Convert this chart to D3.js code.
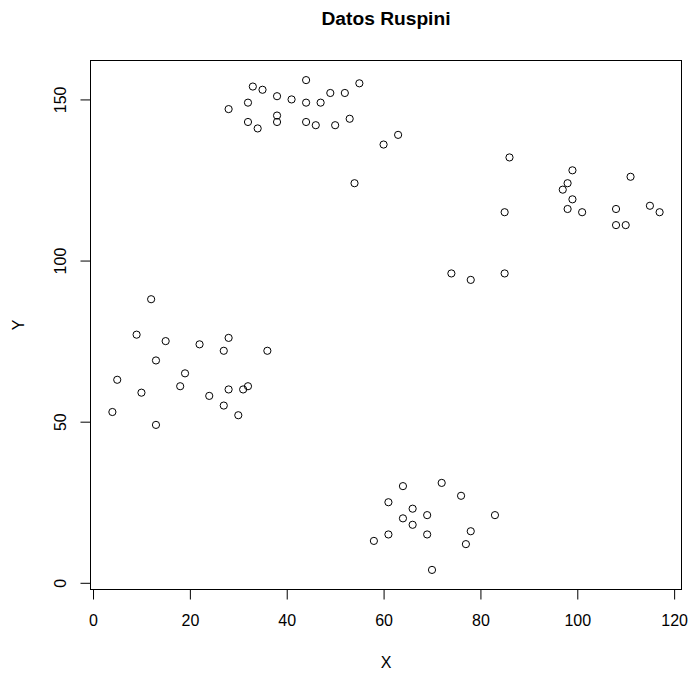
<!DOCTYPE html>
<html lang="es">
<head>
  <meta charset="UTF-8">
  <title>Datos Ruspini</title>
  <script src="https://cdn.jsdelivr.net/npm/d3@7"></script>
  <style>
    body { margin: 0; padding: 0; background: #fff; }
    text { font-family: "Liberation Sans", Arial, sans-serif; fill: #000; }
  </style>
</head>
<body>
<div id="chart"></div>

<script>
  // Ruspini data set (75 points)
  const xs = [4, 5, 10, 9, 13, 13, 12, 15, 18, 19, 22, 27, 28, 24, 27, 28, 30, 31, 32, 36,
              28, 32, 35, 33, 38, 41, 38, 38, 32, 34, 44, 44, 44, 46, 47, 49, 50, 53, 52, 55,
              54, 60, 63, 86, 85, 85, 78, 74, 97, 98, 98, 99, 99, 101, 108, 110, 108, 111, 115, 117,
              70, 77, 83, 61, 69, 78, 66, 58, 64, 69, 66, 61, 76, 72, 64];
  const ys = [53, 63, 59, 77, 49, 69, 88, 75, 61, 65, 74, 72, 76, 58, 55, 60, 52, 60, 61, 72,
              147, 149, 153, 154, 151, 150, 145, 143, 143, 141, 156, 149, 143, 142, 149, 152, 142, 144, 152, 155,
              124, 136, 139, 132, 115, 96, 94, 96, 122, 116, 124, 119, 128, 115, 111, 111, 116, 126, 117, 115,
              4, 12, 21, 15, 15, 16, 18, 13, 20, 21, 23, 25, 27, 31, 30];
  const xTicks = [0, 20, 40, 60, 80, 100, 120];
  const yTicks = [0, 50, 100, 150];

  const width = 692, height = 673;
  const margin = {top: 60.5, right: 10.5, bottom: 83.5, left: 90.5};

  // R-style 4% axis extension
  const xr = d3.extent(xs), yr = d3.extent(ys);
  const xPad = (xr[1] - xr[0]) * 0.04, yPad = (yr[1] - yr[0]) * 0.04;

  const x = d3.scaleLinear()
      .domain([xr[0] - xPad, xr[1] + xPad])
      .range([margin.left, width - margin.right]);
  const y = d3.scaleLinear()
      .domain([yr[0] - yPad, yr[1] + yPad])
      .range([height - margin.bottom, margin.top]);

  const svg = d3.select("#chart").append("svg")
      .attr("width", width)
      .attr("height", height);

  // box
  svg.append("rect")
      .attr("x", margin.left).attr("y", margin.top)
      .attr("width", width - margin.left - margin.right)
      .attr("height", height - margin.top - margin.bottom)
      .attr("fill", "none").attr("stroke", "#000").attr("stroke-width", 1);

  // axes
  const xAxis = svg.append("g")
      .attr("transform", `translate(0,${height - margin.bottom})`)
      .call(d3.axisBottom(x).tickValues(xTicks).tickSize(10).tickPadding(15).tickSizeOuter(0));
  const yAxis = svg.append("g")
      .attr("transform", `translate(${margin.left},0)`)
      .call(d3.axisLeft(y).tickValues(yTicks).tickSize(10).tickSizeOuter(0));

  xAxis.select(".domain").attr("d", `M${x(0)},0H${x(120)}`);
  yAxis.select(".domain").attr("d", `M0,${y(0)}V${y(150)}`);
  svg.selectAll(".tick line").attr("stroke", "#000");
  svg.selectAll(".domain").attr("stroke", "#000");

  xAxis.selectAll("text")
      .attr("font-size", 16).attr("font-family", "Liberation Sans, Arial, sans-serif");
  yAxis.selectAll("text")
      .attr("font-size", 16).attr("font-family", "Liberation Sans, Arial, sans-serif")
      .attr("text-anchor", "middle")
      .attr("transform", "rotate(-90)")
      .attr("x", 0).attr("dy", 0)
      .attr("y", -24.5);

  // points
  svg.append("g")
      .selectAll("circle")
      .data(xs.map((d, i) => [d, ys[i]]))
      .join("circle")
      .attr("cx", d => x(d[0]))
      .attr("cy", d => y(d[1]))
      .attr("r", 3.6)
      .attr("fill", "none")
      .attr("stroke", "#000")
      .attr("stroke-width", 1);

  // titles
  svg.append("text")
      .attr("x", (margin.left + width - margin.right) / 2)
      .attr("y", 25)
      .attr("text-anchor", "middle")
      .attr("font-size", 19.2)
      .attr("font-weight", "bold")
      .text("Datos Ruspini");

  svg.append("text")
      .attr("x", (margin.left + width - margin.right) / 2)
      .attr("y", 668)
      .attr("text-anchor", "middle")
      .attr("font-size", 16)
      .text("X");

  svg.append("text")
      .attr("transform", `translate(24,${(margin.top + height - margin.bottom) / 2}) rotate(-90)`)
      .attr("text-anchor", "middle")
      .attr("font-size", 16)
      .text("Y");
</script>
</body>
</html>
